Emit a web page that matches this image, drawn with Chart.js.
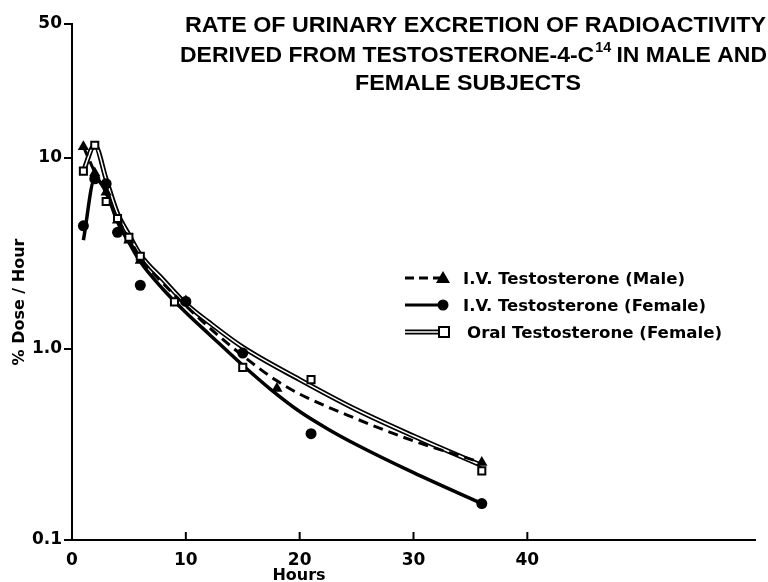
<!DOCTYPE html>
<html>
<head>
<meta charset="utf-8">
<script src="https://cdn.jsdelivr.net/npm/chart.js@4/dist/chart.umd.min.js"></script>
<style>
html,body{margin:0;padding:0;background:#fff;}
canvas{display:block;}
</style>
</head>
<body>
<canvas id="c" width="768" height="582"></canvas>
<script>
// ---- data ----
const titleLines = ["RATE OF URINARY EXCRETION OF RADIOACTIVITY", "DERIVED FROM TESTOSTERONE-4-C", "14", " IN MALE AND", "FEMALE SUBJECTS"];
const seriesNames = ["I.V. Testosterone (Male)", "I.V. Testosterone (Female)", "Oral Testosterone (Female)"];
const xTitle = "Hours";
const yTitle = "% Dose / Hour";
const xTickValues = [0, 10, 20, 30, 40];
const yTickValues = [0.1, 1, 10, 50];
const yTickLabels = ["0.1", "1.0", "10", "50"];

// measured points
const hoursMale = [1, 2, 3, 4, 5, 6, 10, 18, 36];
const doseMale = [11.4, 8.3, 6.6, 4.7, 3.7, 2.9, 1.78, 0.62, 0.254];
const hoursFemale = [1, 2, 3, 4, 6, 10, 15, 21, 36];
const doseFemale = [4.4, 7.75, 7.3, 4.07, 2.15, 1.77, 0.95, 0.36, 0.155];
const hoursOral = [1, 2, 3, 4, 5, 6, 9, 15, 21, 36];
const doseOral = [8.5, 11.6, 5.9, 4.8, 3.83, 3.05, 1.76, 0.80, 0.69, 0.23];

// fitted curves
const curveMaleHours = [1, 2, 3, 4, 5, 6, 8, 10, 12, 15, 18, 20, 25, 30, 36];
const curveMaleDose = [11.4, 8.4, 6.5, 4.8, 3.8, 3.0, 2.2, 1.68, 1.3, 0.92, 0.68, 0.58, 0.43, 0.33, 0.254];
const curveFemaleHours = [1, 2, 3, 4, 5, 6, 8, 10, 12, 15, 17.5, 20, 22.5, 25, 30, 36];
const curveFemaleDose = [3.7, 7.75, 6.6, 4.6, 3.6, 2.85, 2.05, 1.55, 1.2, 0.82, 0.61, 0.47, 0.38, 0.315, 0.225, 0.155];
const curveOralHours = [1, 2, 3, 4, 5, 6, 8, 10, 12, 15, 20, 25, 30, 36];
const curveOralDose = [8.5, 11.6, 7.7, 5.1, 3.95, 3.1, 2.3, 1.72, 1.38, 1.02, 0.69, 0.48, 0.35, 0.245];

const pts = (xs, ys) => xs.map((x, i) => ({x: x, y: ys[i]}));

const FONT = "'DejaVu Sans', 'Liberation Sans', sans-serif";
const TFONT = "'Liberation Sans', 'DejaVu Sans', sans-serif";

function fitText(ctx, text, x, y, w, font) {
  ctx.font = font;
  const m = ctx.measureText(text).width;
  ctx.save();
  ctx.translate(x, y);
  ctx.scale(w / m, 1);
  ctx.fillText(text, 0, 0);
  ctx.restore();
}

const decor = {
  id: 'decor',
  afterDraw(chart) {
    const ctx = chart.ctx;
    const xs = chart.scales.x;
    const ca = chart.chartArea;
    ctx.save();
    ctx.fillStyle = '#000';
    ctx.strokeStyle = '#000';
    ctx.textBaseline = 'alphabetic';
    ctx.textAlign = 'left';
    // inward x ticks
    ctx.lineWidth = 2;
    xTickValues.forEach(v => {
      const px = xs.getPixelForValue(v);
      ctx.beginPath(); ctx.moveTo(px, ca.bottom); ctx.lineTo(px, ca.bottom - 8); ctx.stroke();
    });
    // title
    const tf = "bold 22.5px " + TFONT;
    const sf = "bold 14px " + TFONT;
    fitText(ctx, titleLines[0], 185, 32, 581, tf);
    ctx.font = tf;
    const w1 = ctx.measureText(titleLines[1]).width;
    const w3 = ctx.measureText(titleLines[3]).width;
    ctx.font = sf;
    const w2 = ctx.measureText(titleLines[2]).width;
    const sc = 587 / (w1 + w2 + w3);
    ctx.save();
    ctx.translate(180, 62);
    ctx.scale(sc, 1);
    ctx.font = tf; ctx.fillText(titleLines[1], 0, 0);
    ctx.font = sf; ctx.fillText(titleLines[2], w1 + 1, -10);
    ctx.font = tf; ctx.fillText(titleLines[3], w1 + w2, 0);
    ctx.restore();
    fitText(ctx, titleLines[4], 355, 90, 226, tf);

    // axis titles
    ctx.font = "bold 16px " + FONT;
    ctx.textAlign = 'center';
    ctx.fillText(xTitle, 299, 580);
    ctx.save();
    ctx.translate(24, 302);
    ctx.rotate(-Math.PI / 2);
    ctx.fillText(yTitle, 0, 0);
    ctx.restore();
    ctx.textAlign = 'left';

    // legend
    const lf = "bold 16px " + FONT;
    const rows = [278, 305, 332];
    const widths = [222, 243, 255];
    const lx0 = 405, lx1 = 440;
    ctx.lineWidth = 3;
    ctx.setLineDash([9, 5]);
    ctx.beginPath(); ctx.moveTo(lx0, rows[0]); ctx.lineTo(lx1, rows[0]); ctx.stroke();
    ctx.setLineDash([]);
    ctx.beginPath();
    ctx.moveTo(443, rows[0] - 7); ctx.lineTo(450, rows[0] + 5); ctx.lineTo(436, rows[0] + 5); ctx.closePath(); ctx.fill();
    ctx.lineWidth = 3;
    ctx.beginPath(); ctx.moveTo(lx0, rows[1]); ctx.lineTo(lx1, rows[1]); ctx.stroke();
    ctx.beginPath(); ctx.arc(443, rows[1], 5.5, 0, Math.PI * 2); ctx.fill();
    ctx.lineWidth = 5;
    ctx.beginPath(); ctx.moveTo(lx0, rows[2]); ctx.lineTo(lx1, rows[2]); ctx.stroke();
    ctx.strokeStyle = '#fff'; ctx.lineWidth = 1.5;
    ctx.beginPath(); ctx.moveTo(lx0, rows[2]); ctx.lineTo(lx1 - 2, rows[2]); ctx.stroke();
    ctx.strokeStyle = '#000'; ctx.lineWidth = 2;
    ctx.fillStyle = '#fff';
    ctx.fillRect(439, rows[2] - 5, 10, 10);
    ctx.strokeRect(439, rows[2] - 5, 10, 10);
    ctx.fillStyle = '#000';
    fitText(ctx, seriesNames[0], 463, rows[0] + 6, widths[0], lf);
    fitText(ctx, seriesNames[1], 463, rows[1] + 6, widths[1], lf);
    fitText(ctx, seriesNames[2], 467, rows[2] + 6, widths[2], lf);
    ctx.restore();
  }
};

const tickFont = {family: FONT, size: 17, weight: 'bold'};

new Chart(document.getElementById('c'), {
  type: 'scatter',
  data: {
    datasets: [
      {label: seriesNames[2], data: pts(hoursOral, doseOral), pointStyle: 'rect', pointRadius: 5, backgroundColor: '#fff', borderColor: '#000', borderWidth: 2, order: 0},
      {label: seriesNames[1], data: pts(hoursFemale, doseFemale), pointStyle: 'circle', pointRadius: 5.5, backgroundColor: '#000', borderColor: '#000', borderWidth: 0, order: 1},
      {label: seriesNames[0], data: pts(hoursMale, doseMale), pointStyle: 'triangle', pointRadius: 6.5, backgroundColor: '#000', borderColor: '#000', borderWidth: 0, order: 2},
      {label: 'male curve', data: pts(curveMaleHours, curveMaleDose), showLine: true, pointRadius: 0, borderColor: '#000', borderWidth: 3, borderDash: [10, 6], cubicInterpolationMode: 'monotone', order: 3},
      {label: 'female curve', data: pts(curveFemaleHours, curveFemaleDose), showLine: true, pointRadius: 0, borderColor: '#000', borderWidth: 3.5, cubicInterpolationMode: 'monotone', order: 4},
      {label: 'oral curve inner', data: pts(curveOralHours, curveOralDose), showLine: true, pointRadius: 0, borderColor: '#fff', borderWidth: 1.5, cubicInterpolationMode: 'monotone', order: 5},
      {label: 'oral curve', data: pts(curveOralHours, curveOralDose), showLine: true, pointRadius: 0, borderColor: '#000', borderWidth: 5, cubicInterpolationMode: 'monotone', order: 6}
    ]
  },
  options: {
    responsive: false,
    animation: false,
    events: [],
    layout: {padding: {top: 24, right: 13, bottom: 0, left: 0}},
    plugins: {legend: {display: false}, title: {display: false}, tooltip: {enabled: false}},
    scales: {
      x: {
        type: 'linear', min: 0, max: 60,
        afterBuildTicks: s => { s.ticks = xTickValues.map(v => ({value: v})); },
        afterFit: s => { s.height = 42; },
        grid: {display: false},
        border: {display: true, color: '#000', width: 2},
        ticks: {color: '#000', font: tickFont, padding: 2, maxRotation: 0, autoSkip: false, callback: v => String(v)}
      },
      y: {
        type: 'logarithmic', min: 0.1, max: 50,
        afterBuildTicks: s => { s.ticks = yTickValues.map(v => ({value: v})); },
        afterFit: s => { s.width = 72; },
        grid: {display: true, drawOnChartArea: false, drawTicks: true, tickLength: 8, color: '#000', lineWidth: 2},
        border: {display: true, color: '#000', width: 2},
        ticks: {color: '#000', font: tickFont, padding: 2, autoSkip: false,
          callback: (v) => { const i = yTickValues.indexOf(v); return i >= 0 ? yTickLabels[i] : ''; }}
      }
    }
  },
  plugins: [decor]
});
</script>
</body>
</html>
